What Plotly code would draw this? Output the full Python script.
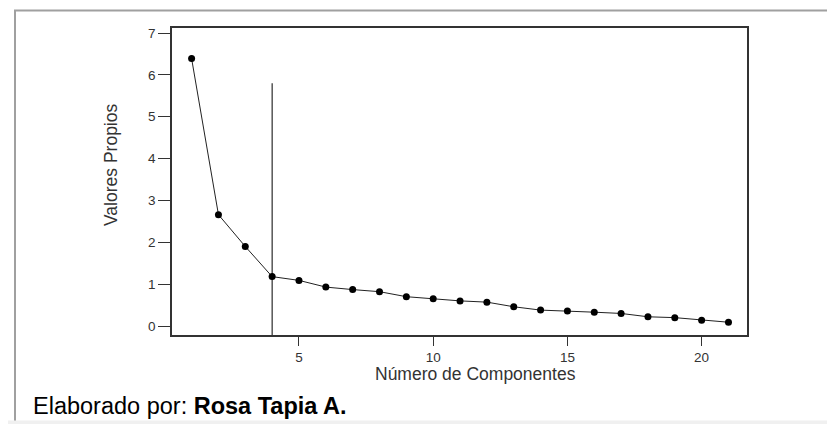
import plotly.graph_objects as go

components = list(range(1, 22))
eigenvalues = [6.39, 2.66, 1.90, 1.18, 1.09, 0.93, 0.87, 0.82, 0.70, 0.65, 0.60,
               0.57, 0.46, 0.38, 0.36, 0.33, 0.30, 0.22, 0.20, 0.14, 0.09]
cutoff_component = 4
cutoff_top = 5.8
x_ticks = [5, 10, 15, 20]
y_ticks = [0, 1, 2, 3, 4, 5, 6, 7]

W, H = 835, 424
OFF = 8  # default page body margin
# plot box in page pixels
PL, PR, PT, PB = 172, 747, 28, 335
pw, ph = PR - PL, PB - PT

def px(x):
    return (x - PL) / pw

def py(y):
    return (PB - y) / ph

FONT = "Liberation Sans, Arial, sans-serif"

fig = go.Figure()
fig.add_trace(go.Scatter(
    x=components, y=eigenvalues, mode="lines+markers",
    line=dict(color="#222222", width=1),
    marker=dict(color="black", size=7),
    showlegend=False,
))

fig.add_shape(type="line", xref="x", yref="y", x0=cutoff_component, x1=cutoff_component,
              y0=-0.215, y1=cutoff_top, line=dict(color="black", width=1))

# outer frame decorations
fig.add_shape(type="line", xref="paper", yref="paper", x0=px(14), x1=px(W + 20), y0=py(10.5), y1=py(10.5),
              line=dict(color="#a0a0a0", width=2))
fig.add_shape(type="line", xref="paper", yref="paper", x0=px(15), x1=px(15), y0=py(10), y1=py(421),
              line=dict(color="#a0a0a0", width=2))
fig.add_shape(type="rect", xref="paper", yref="paper", x0=px(0), x1=px(W + 20), y0=py(420.5), y1=py(432),
              line=dict(width=0), fillcolor="#f0f0f0")

fig.add_annotation(text="Valores Propios", xref="paper", yref="paper", x=px(111), y=py(165),
                   xanchor="center", yanchor="middle",
                   textangle=-90, showarrow=False, font=dict(family=FONT, size=17.5, color="#333333"))
fig.add_annotation(text="Número de Componentes", xref="paper", yref="paper", x=px(475.5), y=py(374),
                   xanchor="center", yanchor="middle",
                   showarrow=False, font=dict(family=FONT, size=17.5, color="#333333"))
fig.add_annotation(text="Elaborado por: <b>Rosa Tapia A.</b>", xref="paper", yref="paper",
                   x=px(31), y=py(406), xanchor="left", yanchor="middle", showarrow=False,
                   font=dict(family=FONT, size=23.5, color="black"))

fig.update_xaxes(range=[0.27, 21.69], tickvals=x_ticks, ticks="outside", ticklen=9,
                 tickcolor="#333333", showline=True, linecolor="#333333", linewidth=1.5,
                 mirror=True, showgrid=False, zeroline=False,
                 tickfont=dict(family=FONT, size=13.5, color="#333333"))
fig.update_yaxes(range=[-0.215, 7.12], tickvals=y_ticks, ticks="outside", ticklen=12,
                 tickcolor="#333333", showline=True, linecolor="#333333", linewidth=1.5,
                 mirror=True, showgrid=False, zeroline=False,
                 tickfont=dict(family=FONT, size=13.5, color="#333333"))

fig.update_layout(width=W, height=H,
                  margin=dict(l=PL - OFF, r=W - (PR - OFF), t=PT - OFF, b=H - (PB - OFF)),
                  paper_bgcolor="white", plot_bgcolor="white")

fig.write_html("out.html")
